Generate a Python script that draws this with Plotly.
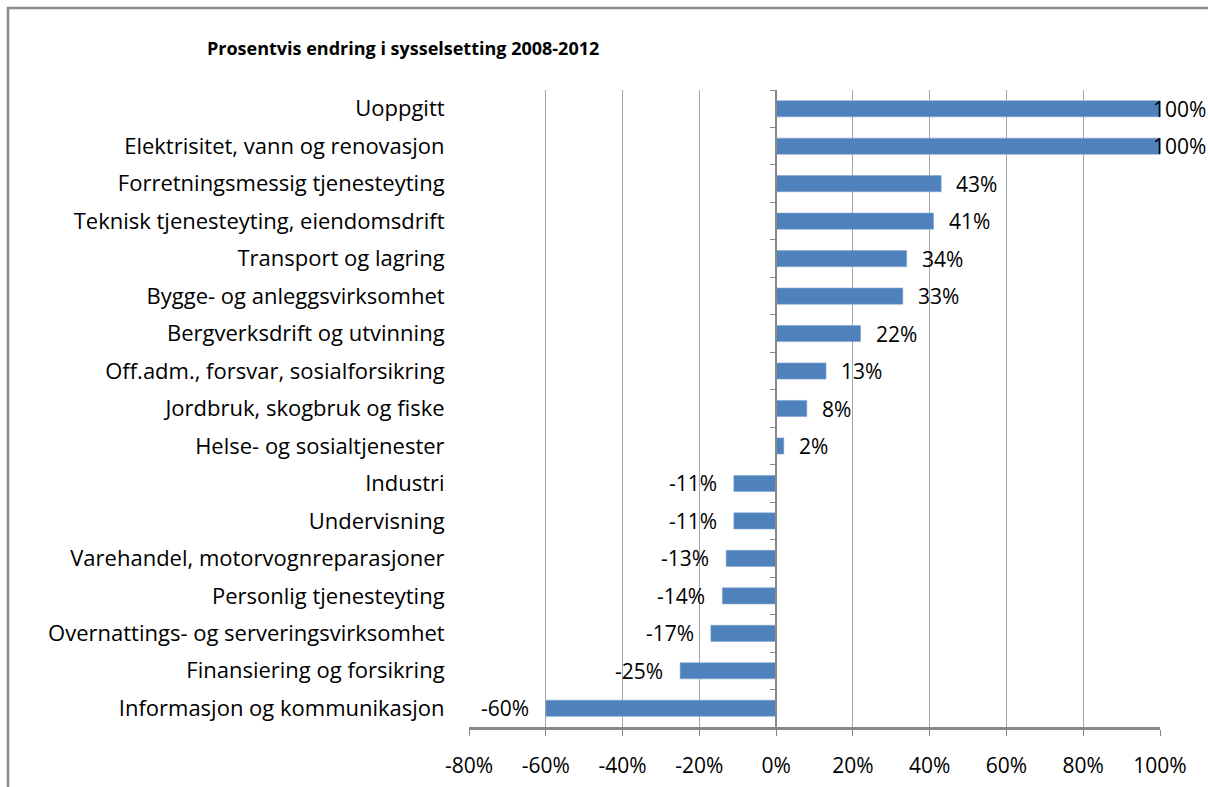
import plotly.graph_objects as go

TITLE = "Prosentvis endring i sysselsetting 2008-2012"

CATEGORIES = [
    "Uoppgitt",
    "Elektrisitet, vann og renovasjon",
    "Forretningsmessig tjenesteyting",
    "Teknisk tjenesteyting, eiendomsdrift",
    "Transport og lagring",
    "Bygge- og anleggsvirksomhet",
    "Bergverksdrift og utvinning",
    "Off.adm., forsvar, sosialforsikring",
    "Jordbruk, skogbruk og fiske",
    "Helse- og sosialtjenester",
    "Industri",
    "Undervisning",
    "Varehandel, motorvognreparasjoner",
    "Personlig tjenesteyting",
    "Overnattings- og serveringsvirksomhet",
    "Finansiering og forsikring",
    "Informasjon og kommunikasjon",
]
CHANGE_PCT = [100, 100, 43, 41, 34, 33, 22, 13, 8, 2, -11, -11, -13, -14, -17, -25, -60]
X_TICKS = [-80, -60, -40, -20, 0, 20, 40, 60, 80, 100]

BAR_COLOR = "#4F81BD"
AXIS_GRAY = "#888888"
GRID_GRAY = "#A6A6A6"
FONT = "Open Sans"

W, H = 1208, 787
ML, MR, MT, MB = 469, 48, 90, 60
X_RANGE = [-80, 100]

# reversed so the first category sits on top
cats = CATEGORIES[::-1]
vals = CHANGE_PCT[::-1]

fig = go.Figure()
fig.add_trace(go.Bar(
    x=vals, y=cats, orientation="h",
    marker=dict(color=BAR_COLOR, line=dict(color="#7FA3D0", width=0.6)),
    width=0.43, showlegend=False,
))
# invisible trace to drive the zero-crossing category axis (ticks between categories)
fig.add_trace(go.Scatter(x=[0] * len(cats), y=cats, yaxis="y2", mode="markers",
                         marker=dict(opacity=0), showlegend=False, hoverinfo="skip"))

for c, v in zip(cats, vals):
    if v >= X_RANGE[1]:
        anchor, shift = "left", -9
    elif v >= 0:
        anchor, shift = "left", 13
    else:
        anchor, shift = "right", -15
    fig.add_annotation(x=v, y=c, text=f"{v}%", showarrow=False, xanchor=anchor,
                       xshift=shift, font=dict(size=21, color="#000000", family=FONT))

fig.update_layout(
    width=W, height=H,
    margin=dict(l=ML, r=MR, t=MT, b=MB, autoexpand=False),
    paper_bgcolor="#FFFFFF", plot_bgcolor="#FFFFFF",
    font=dict(family=FONT, color="#000000"),
    title=dict(text=f"<b>{TITLE}</b>", x=207 / W, xanchor="left", y=1 - 49 / H, yanchor="middle",
               font=dict(size=18, family=FONT, color="#000000")),
    xaxis=dict(range=X_RANGE, tickvals=X_TICKS, ticktext=[f"{t}%" for t in X_TICKS],
               showgrid=True, gridcolor=GRID_GRAY, gridwidth=1, zeroline=False,
               showline=True, linecolor=AXIS_GRAY, linewidth=2.5, automargin=False,
               ticks="outside", ticklen=6, tickcolor=AXIS_GRAY, ticklabelstandoff=12,
               tickfont=dict(size=21), fixedrange=True),
    yaxis=dict(type="category", range=[-0.5, len(cats) - 0.5], showgrid=False, zeroline=False,
               showline=False, ticks="outside", ticklen=19, tickcolor="rgba(0,0,0,0)",
               automargin=False, tickfont=dict(size=22)),
    yaxis2=dict(type="category", overlaying="y", anchor="free", position=80 / 180,
                range=[-0.5, len(cats) - 0.5], side="left", showgrid=False, zeroline=False,
                showline=True, linecolor=AXIS_GRAY, linewidth=1.5, showticklabels=False,
                automargin=False, ticks="outside", ticklen=5, tickcolor=AXIS_GRAY,
                tickson="boundaries"),
)

# outer chart frame (as in the source spreadsheet chart)
pw, ph = W - ML - MR, H - MT - MB
fig.add_shape(type="rect", xref="paper", yref="paper", layer="below",
              x0=(8 - ML) / pw, x1=(W + 20 - ML) / pw,
              y0=(-MB - 20) / ph, y1=(H - 8 - MB) / ph,
              line=dict(color="#8C8C8C", width=2.5), fillcolor="rgba(0,0,0,0)")

# drop the browser's default body margin so the figure fills the window exactly
fig.write_html("out.html", config={"displayModeBar": False},
               post_script="document.body.style.margin='0';document.body.style.overflow='hidden';")
